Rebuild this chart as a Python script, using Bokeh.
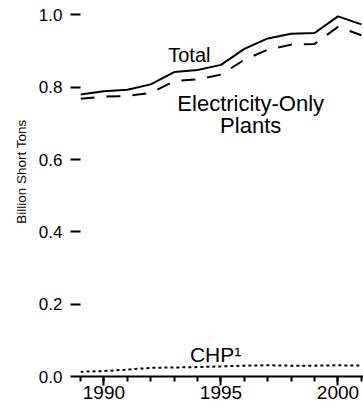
from bokeh.plotting import figure
from bokeh.models import FixedTicker, PrintfTickFormatter, Label, Range1d
from bokeh.embed import file_html
from bokeh.resources import INLINE

years = [1989, 1990, 1991, 1992, 1993, 1994, 1995, 1996, 1997, 1998, 1999, 2000, 2001]
total = [0.780, 0.789, 0.793, 0.808, 0.842, 0.848, 0.862, 0.906, 0.935, 0.948, 0.950, 0.996, 0.974]
elec_only = [0.768, 0.774, 0.776, 0.784, 0.817, 0.822, 0.835, 0.876, 0.904, 0.918, 0.920, 0.967, 0.944]
chp = [0.013, 0.015, 0.019, 0.024, 0.025, 0.026, 0.028, 0.030, 0.031, 0.030, 0.030, 0.031, 0.030]

x_major = [1990, 1995, 2000]
x_minor = [1989, 1990, 1991, 1992, 1993, 1994, 1995, 1996, 1997, 1998, 1999, 2000, 2001]
y_ticks = [0.0, 0.2, 0.4, 0.6, 0.8, 1.0]

FONT = "Liberation Sans"

p = figure(width=363, height=411, output_backend="svg", toolbar_location=None,
           x_range=Range1d(1989, 2001.09), y_range=Range1d(0, 1.040),
           min_border_left=80, min_border_right=0, min_border_top=0, min_border_bottom=35)
p.outline_line_color = None
p.grid.grid_line_color = None
p.background_fill_color = "white"

p.line(years, total, line_color="black", line_width=2)
p.line(years, elec_only, line_color="black", line_width=2, line_dash="14 12")
p.line(years, chp, line_color="black", line_width=2, line_dash="3 3")

xa = p.xaxis[0]
xa.ticker = FixedTicker(ticks=x_major, minor_ticks=x_minor)
xa.axis_line_width = 2
xa.major_tick_line_width = 2
xa.minor_tick_line_width = 2
xa.major_tick_out = 9
xa.major_tick_in = 0
xa.minor_tick_out = 5
xa.minor_tick_in = 0
xa.major_label_standoff = 0
xa.major_label_text_font = FONT
xa.major_label_text_font_size = "19px"
xa.major_label_text_color = "black"

ya = p.yaxis[0]
ya.ticker = FixedTicker(ticks=y_ticks, minor_ticks=[])
ya.formatter = PrintfTickFormatter(format="%.1f")
ya.axis_line_color = None
ya.major_tick_line_width = 2
ya.major_tick_out = 10
ya.major_tick_in = 0
ya.minor_tick_line_color = None
ya.major_label_standoff = 8
ya.major_label_text_font = FONT
ya.major_label_text_font_size = "17px"
ya.major_label_text_color = "black"
ya.axis_label = "\u00a0" * 9 + "Billion Short Tons"
ya.axis_label_text_font = FONT
ya.axis_label_text_font_size = "13.5px"
ya.axis_label_text_font_style = "normal"
ya.axis_label_text_color = "black"
ya.axis_label_standoff = 7

def lab(x, y, t, size="20px"):
    p.add_layout(Label(x=x, y=y, text=t, text_align="center", text_baseline="alphabetic",
                       text_font=FONT, text_font_size=size, text_color="black"))

lab(1993.65, 0.889, "Total", "20px")
lab(1996.27, 0.755, "Electricity-Only", "22px")
lab(1996.27, 0.693, "Plants", "22px")
lab(1994.77, 0.061, "CHP\u00b9", "21px")

open("out.html", "w").write(file_html(p, INLINE))
